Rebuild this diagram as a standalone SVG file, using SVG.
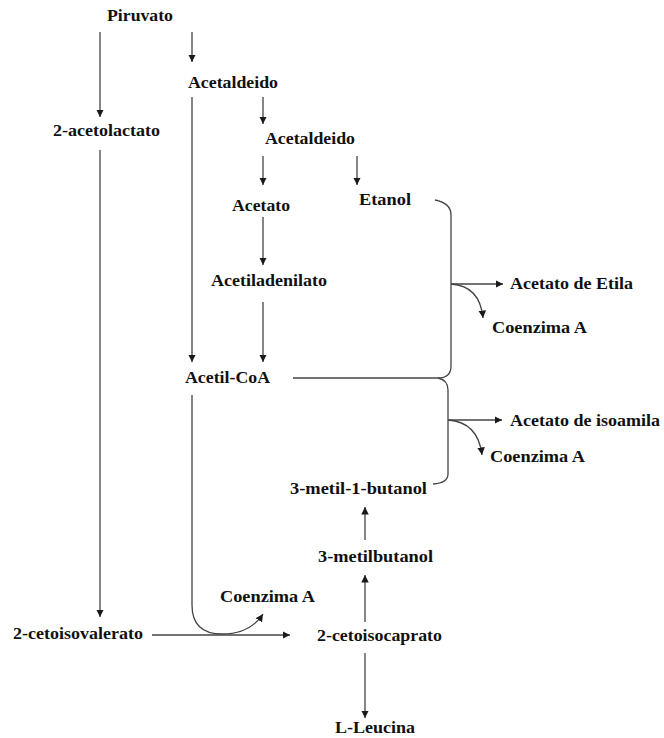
<svg xmlns="http://www.w3.org/2000/svg" width="664" height="738" viewBox="0 0 664 738">
<defs>
<marker id="ah" markerUnits="userSpaceOnUse" markerWidth="9" markerHeight="9" refX="7.5" refY="3.75" orient="auto">
<path d="M0,0 L7.5,3.75 L0,7.5 z" fill="#1a1a1a"/>
</marker>
<style>
.t{font-family:"Liberation Serif","Times New Roman",serif;font-weight:bold;font-size:17.5px;fill:#111}
.c{fill:none;stroke:#444;stroke-width:1.3}
.a{marker-end:url(#ah)}
</style>
</defs>
<rect width="664" height="738" fill="#fff"/>
<g id="connectors">
<path class="c a" d="M100,32 V117"/>
<path class="c a" d="M192,32 V62"/>
<path class="c a" d="M100,150 V617"/>
<path class="c a" d="M192,97 V362"/>
<path class="c a" d="M263,97 V124"/>
<path class="c a" d="M263,156 V185"/>
<path class="c a" d="M357,156 V185"/>
<path class="c a" d="M263,217 V265"/>
<path class="c a" d="M263,302 V362"/>
<path class="c" d="M435,200 Q451,203 451,215 V366 Q451,378 438,378"/>
<path class="c" d="M293,378 H438"/>
<path class="c" d="M438,378 Q448,380 448,390 V474 Q448,483 433,484"/>
<path class="c a" d="M451,284 H503"/>
<path class="c a" d="M451,284 Q480,286 483,318"/>
<path class="c a" d="M448,420 H502"/>
<path class="c a" d="M448,420 Q478,422 482,455"/>
<path class="c a" d="M152,635 H290"/>
<path class="c a" d="M192,395 V605 Q192,634 222,634 Q250,634 263,614"/>
<path class="c a" d="M365,622 V575"/>
<path class="c a" d="M365,540 V507"/>
<path class="c a" d="M365,653 V718"/>
</g>
<g id="piruvato"><text class="t" x="107" y="21" textLength="66" lengthAdjust="spacingAndGlyphs">Piruvato</text></g>
<g id="acetaldeido1"><text class="t" x="188" y="88" textLength="90" lengthAdjust="spacingAndGlyphs">Acetaldeido</text></g>
<g id="acetolactato"><text class="t" x="53" y="136" textLength="107" lengthAdjust="spacingAndGlyphs">2-acetolactato</text></g>
<g id="acetaldeido2"><text class="t" x="265" y="144" textLength="90" lengthAdjust="spacingAndGlyphs">Acetaldeido</text></g>
<g id="acetato"><text class="t" x="232" y="211" textLength="58" lengthAdjust="spacingAndGlyphs">Acetato</text></g>
<g id="etanol"><text class="t" x="359" y="205" textLength="52" lengthAdjust="spacingAndGlyphs">Etanol</text></g>
<g id="acetiladenilato"><text class="t" x="211" y="286" textLength="116" lengthAdjust="spacingAndGlyphs">Acetiladenilato</text></g>
<g id="acetato-etila"><text class="t" x="510" y="289" textLength="123" lengthAdjust="spacingAndGlyphs">Acetato de Etila</text></g>
<g id="coa1"><text class="t" x="492" y="333" textLength="95" lengthAdjust="spacingAndGlyphs">Coenzima A</text></g>
<g id="acetil-coa"><text class="t" x="185" y="383" textLength="85" lengthAdjust="spacingAndGlyphs">Acetil-CoA</text></g>
<g id="acetato-isoamila"><text class="t" x="510" y="426" textLength="150" lengthAdjust="spacingAndGlyphs">Acetato de isoamila</text></g>
<g id="coa2"><text class="t" x="490" y="462" textLength="95" lengthAdjust="spacingAndGlyphs">Coenzima A</text></g>
<g id="metil-1-butanol"><text class="t" x="290" y="494" textLength="137" lengthAdjust="spacingAndGlyphs">3-metil-1-butanol</text></g>
<g id="metilbutanol"><text class="t" x="318" y="562" textLength="115" lengthAdjust="spacingAndGlyphs">3-metilbutanol</text></g>
<g id="coa3"><text class="t" x="220" y="602" textLength="95" lengthAdjust="spacingAndGlyphs">Coenzima A</text></g>
<g id="cetoisovalerato"><text class="t" x="13" y="639" textLength="130" lengthAdjust="spacingAndGlyphs">2-cetoisovalerato</text></g>
<g id="cetoisocaprato"><text class="t" x="317" y="641" textLength="125" lengthAdjust="spacingAndGlyphs">2-cetoisocaprato</text></g>
<g id="leucina"><text class="t" x="335" y="733" textLength="80" lengthAdjust="spacingAndGlyphs">L-Leucina</text></g>
</svg>
